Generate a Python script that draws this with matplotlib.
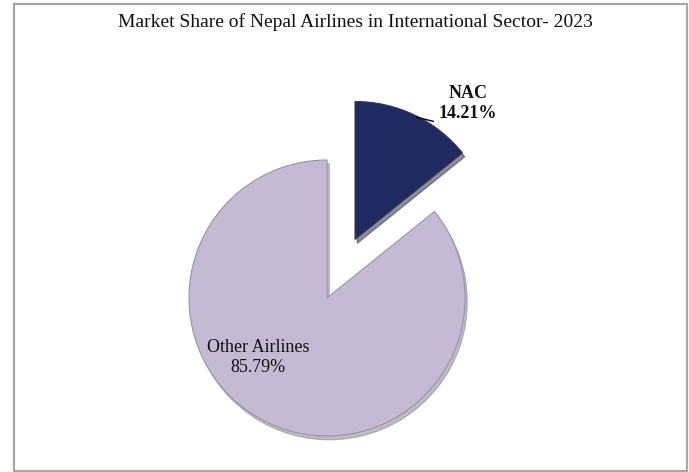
import matplotlib
matplotlib.use("Agg")
import matplotlib.pyplot as plt
from matplotlib.patches import Rectangle

title = "Market Share of Nepal Airlines in International Sector- 2023"
categories = ["NAC", "Other Airlines"]
shares = [14.21, 85.79]
colors = ["#1f2b60", "#c5bad4"]
explode = [0.47, 0.0]

plt.rcParams['font.family'] = ['Liberation Serif', 'DejaVu Serif']

W, H = 689, 472
fig = plt.figure(figsize=(W / 100, H / 100), dpi=100)
fig.patch.set_facecolor("white")

# border
fig.add_artist(Rectangle((13.5 / W, 1.5 / H), (686.5 - 13.5) / W, (468.5 - 1.5) / H,
                         transform=fig.transFigure, fill=False,
                         edgecolor="#a6a6a6", linewidth=1.6))

fig.text(355 / W, 1 - 22 / H, title, ha="center", va="center", fontsize=14,
         color="#111111")

cx, cy, r = 327, 298, 138
ax = fig.add_axes([(cx - r) / W, (H - cy - r) / H, 2 * r / W, 2 * r / H])
wedges, _ = ax.pie(shares, colors=colors, explode=explode, startangle=90,
                   counterclock=False,
                   wedgeprops=dict(linewidth=0.8, edgecolor="#9a93a8"),
                   shadow=dict(ox=0.012, oy=-0.02, shade=0.35, alpha=0.5))
wedges[0].set_edgecolor("#3a3a48")
ax.set_xlim(-1, 1)
ax.set_ylim(-1, 1)
ax.set_aspect("auto")
ax.axis("off")
for p in ax.patches:
    p.set_clip_on(False)

ax.text(1.02, 1.41, f"{categories[0]}\n{shares[0]:.2f}%", ha="center", va="center",
        fontsize=13, fontweight="bold", linespacing=1.2, color="#111111", clip_on=False)
ax.text(-0.5, -0.43, f"{categories[1]}\n{shares[1]:.2f}%", ha="center", va="center",
        fontsize=13, linespacing=1.2, color="#111111", clip_on=False)
ax.plot([0.65, 0.77], [1.31, 1.28], color="black", linewidth=1.0, clip_on=False)

fig.savefig("out.png", dpi=100)
